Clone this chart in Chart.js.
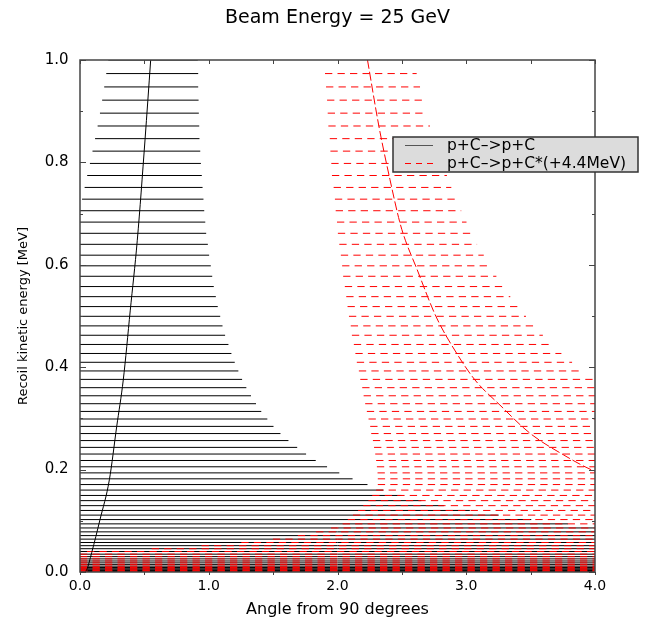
<!DOCTYPE html>
<html>
<head>
<meta charset="utf-8">
<script src="https://cdn.jsdelivr.net/npm/chart.js@4.4.1/dist/chart.umd.min.js"></script>
<style>
  html, body { margin: 0; padding: 0; background: #fff; }
</style>
</head>
<body>
<canvas id="chart" width="646" height="619"></canvas>
<script>
// recoil energy of each band line (MeV), bottom to top
const energyLevels = [
  0.0002, 0.0007, 0.0016, 0.0028, 0.0044, 0.0064, 0.0087, 0.0114, 0.0144, 0.0178,
  0.0215, 0.0256, 0.0300, 0.0348, 0.0400, 0.0455, 0.0514, 0.0576, 0.0642, 0.0711,
  0.0784, 0.0860, 0.0940, 0.1024, 0.1111, 0.1202, 0.1296, 0.1394, 0.1495, 0.1600,
  0.1708, 0.1820, 0.1936, 0.2055, 0.2178, 0.2304, 0.2434, 0.2567, 0.2704, 0.2844,
  0.2988, 0.3136, 0.3287, 0.3442, 0.3600, 0.3762, 0.3927, 0.4096, 0.4268, 0.4444,
  0.4624, 0.4807, 0.4994, 0.5184, 0.5378, 0.5575, 0.5776, 0.5980, 0.6188, 0.6400,
  0.6615, 0.6834, 0.7056, 0.7282, 0.7511, 0.7744, 0.7980, 0.8220, 0.8464, 0.8711,
  0.8962, 0.9216, 0.9474, 0.9735, 1.0000
];

// p+C->p+C : angle range of each line
const elasticLeft = [
  0, 0, 0, 0, 0, 0, 0, 0, 0, 0,
  0, 0, 0, 0, 0, 0, 0, 0, 0, 0,
  0, 0, 0, 0, 0, 0, 0, 0, 0, 0,
  0, 0, 0, 0, 0, 0, 0, 0, 0, 0,
  0, 0, 0, 0, 0, 0, 0, 0, 0, 0,
  0, 0, 0, 0, 0, 0, 0, 0, 0, 0,
  0, 0, 0, 0.016, 0.036, 0.056, 0.077, 0.097, 0.117, 0.137,
  0.155, 0.172, 0.188, 0.204, 0.22
];
const elasticRight = [
  4.0, 4.0, 4.0, 4.0, 4.0, 4.0, 4.0, 4.0, 4.0, 4.0,
  4.0, 4.0, 4.0, 4.0, 4.0, 4.0, 4.0, 4.0, 4.0, 4.0,
  4.0, 4.0, 3.79, 3.505, 3.252, 3.028, 2.826, 2.651, 2.497, 2.357,
  2.233, 2.117, 2.014, 1.919, 1.831, 1.756, 1.687, 1.619, 1.557, 1.503,
  1.455, 1.408, 1.367, 1.328, 1.292, 1.259, 1.230, 1.202, 1.176, 1.153,
  1.127, 1.107, 1.089, 1.070, 1.055, 1.039, 1.027, 1.016, 1.003, 0.993,
  0.980, 0.973, 0.965, 0.959, 0.952, 0.946, 0.939, 0.934, 0.928, 0.926,
  0.923, 0.921, 0.918, 0.918, 0.915
];

// p+C->p+C*(+4.4MeV) : angle range of each line (null = no line)
const excitedLeft = [
  0, 0, 0, 0, 0, 0, 0, 0, 0, 0,
  0, 0, 0, 0, 0.054, 0.557, 0.944, 1.253, 1.498, 1.692,
  1.834, 1.95, 2.04, 2.08, 2.12, 2.16, 2.20, 2.24, 2.27, 2.30,
  2.313, 2.313, 2.311, 2.306, 2.300, 2.293, 2.284, 2.275, 2.262, 2.254,
  2.241, 2.228, 2.215, 2.203, 2.192, 2.177, 2.166, 2.150, 2.139, 2.127,
  2.112, 2.103, 2.089, 2.078, 2.068, 2.057, 2.044, 2.036, 2.026, 2.014,
  2.003, 1.996, 1.986, 1.980, 1.970, 1.957, 1.952, 1.945, 1.940, 1.929,
  1.924, 1.919, 1.911, 1.903, null
];
const excitedRight = [
  4.0, 4.0, 4.0, 4.0, 4.0, 4.0, 4.0, 4.0, 4.0, 4.0,
  4.0, 4.0, 4.0, 4.0, 4.0, 4.0, 4.0, 4.0, 4.0, 4.0,
  4.0, 4.0, 4.0, 4.0, 4.0, 4.0, 4.0, 4.0, 4.0, 4.0,
  4.0, 4.0, 4.0, 4.0, 4.0, 4.0, 4.0, 4.0, 4.0, 4.0,
  4.0, 4.0, 4.0, 4.0, 4.0, 4.0, 3.910, 3.822, 3.739, 3.665,
  3.595, 3.526, 3.464, 3.399, 3.342, 3.286, 3.234, 3.182, 3.136, 3.084,
  3.046, 3.002, 2.961, 2.922, 2.884, 2.850, 2.815, 2.780, 2.748, 2.718,
  2.692, 2.667, 2.641, 2.615, null
];

// kinematic curves
const elasticCurveX = [0.039, 0.052, 0.091, 0.155, 0.228, 0.285, 0.336, 0.390, 0.445, 0.505, 0.549];
const elasticCurveY = [0.0006, 0.004, 0.038, 0.102, 0.180, 0.284, 0.375, 0.510, 0.648, 0.844, 1.0];
const excitedCurveX = [2.233, 2.322, 2.408, 2.485, 2.527, 2.610, 2.765, 2.926, 3.068, 3.262, 3.495, 3.754, 3.987, 4.0];
const excitedCurveY = [1.0, 0.870, 0.766, 0.682, 0.648, 0.596, 0.499, 0.427, 0.375, 0.326, 0.271, 0.229, 0.198, 0.197];

const xTickMarks = [0, 0.5, 1.0, 1.5, 2.0, 2.5, 3.0, 3.5, 4.0];
const yTickMarks = [0, 0.1, 0.2, 0.3, 0.4, 0.5, 0.6, 0.7, 0.8, 0.9, 1.0];

const titleText = 'Beam Energy = 25 GeV';
const legendLabels = ['p+C–>p+C', 'p+C–>p+C*(+4.4MeV)'];

const FONT = 'DejaVu Sans';
const lineBase = { showLine: true, pointRadius: 0, borderWidth: 1, fill: false };

const datasets = [];
energyLevels.forEach((e, i) => {
  datasets.push(Object.assign({}, lineBase, {
    data: [{ x: elasticLeft[i], y: e }, { x: elasticRight[i], y: e }],
    borderColor: '#000', order: 2
  }));
  if (excitedLeft[i] !== null) {
    datasets.push(Object.assign({}, lineBase, {
      data: [{ x: excitedLeft[i], y: e }, { x: excitedRight[i], y: e }],
      borderColor: '#ff0000', borderDash: [7.3, 5.2], order: 1
    }));
  }
});
datasets.push(Object.assign({}, lineBase, {
  data: elasticCurveX.map((x, i) => ({ x: x, y: elasticCurveY[i] })),
  borderColor: '#000', cubicInterpolationMode: 'monotone', order: 0
}));
datasets.push(Object.assign({}, lineBase, {
  data: excitedCurveX.map((x, i) => ({ x: x, y: excitedCurveY[i] })),
  borderColor: '#ff0000', borderDash: [9, 3], cubicInterpolationMode: 'monotone', order: 0
}));

// frame, inward ticks, legend box and title
const decorations = {
  id: 'decorations',
  afterDatasetsDraw(chart) {
    const { ctx, chartArea: a, scales: { x, y } } = chart;
    ctx.save();
    ctx.strokeStyle = '#444';
    ctx.lineWidth = 1;
    ctx.beginPath();
    xTickMarks.forEach(v => {
      const px = Math.round(x.getPixelForValue(v)) + 0.5;
      ctx.moveTo(px, a.top); ctx.lineTo(px, a.top + 4);
      ctx.moveTo(px, a.bottom); ctx.lineTo(px, a.bottom + 3);
    });
    yTickMarks.forEach((v, i) => {
      const py = Math.round(y.getPixelForValue(v)) + 0.5;
      const len = i % 2 === 0 ? 6 : 3;
      ctx.moveTo(a.left, py); ctx.lineTo(a.left + len, py);
      ctx.moveTo(a.right, py); ctx.lineTo(a.right - len, py);
    });
    ctx.stroke();
    ctx.lineWidth = 1.5;
    ctx.strokeRect(a.left, a.top, a.right - a.left, a.bottom - a.top);
    ctx.restore();
  },
  afterDraw(chart) {
    const { ctx, chartArea: a } = chart;
    ctx.save();
    // legend
    const bx = a.right - 202, by = a.top + 77, bw = 245, bh = 35;
    ctx.fillStyle = '#dcdcdc';
    ctx.fillRect(bx, by, bw, bh);
    ctx.strokeStyle = '#333';
    ctx.lineWidth = 1.5;
    ctx.strokeRect(bx, by, bw, bh);
    const rows = [by + 8.5, by + 26.5];
    ctx.lineWidth = 1;
    ctx.strokeStyle = '#555';
    ctx.beginPath(); ctx.moveTo(bx + 12, rows[0]); ctx.lineTo(bx + 40, rows[0]); ctx.stroke();
    ctx.strokeStyle = '#ff0000';
    ctx.setLineDash([6, 5]);
    ctx.beginPath(); ctx.moveTo(bx + 12, rows[1]); ctx.lineTo(bx + 40, rows[1]); ctx.stroke();
    ctx.setLineDash([]);
    ctx.fillStyle = '#000';
    ctx.font = '15.5px "' + FONT + '"';
    ctx.textAlign = 'left';
    ctx.textBaseline = 'middle';
    legendLabels.forEach((t, i) => ctx.fillText(t, bx + 54, rows[i]));
    // title
    ctx.font = '19px "' + FONT + '"';
    ctx.textAlign = 'center';
    ctx.fillText(titleText, (a.left + a.right) / 2, 18);
    ctx.restore();
  }
};

new Chart(document.getElementById('chart'), {
  type: 'scatter',
  data: { datasets: datasets },
  options: {
    responsive: false,
    animation: false,
    devicePixelRatio: 1,
    events: [],
    layout: { padding: { top: 60, right: 51, left: 0, bottom: 0 } },
    plugins: { legend: { display: false }, tooltip: { enabled: false }, title: { display: false } },
    scales: {
      x: {
        type: 'linear', min: 0, max: 4,
        grid: { display: false, drawTicks: false },
        border: { display: false },
        ticks: {
          stepSize: 1, autoSkip: false, maxRotation: 0, padding: 6, color: '#000',
          font: { family: FONT, size: 14 },
          callback: v => v.toFixed(1)
        },
        title: {
          display: true, text: 'Angle from 90 degrees', color: '#000',
          font: { family: FONT, size: 16, lineHeight: 1.1 },
          padding: { top: 0, bottom: 0 }
        },
        afterFit: s => { s.height = 47; }
      },
      y: {
        type: 'linear', min: 0, max: 1,
        grid: { display: false, drawTicks: false },
        border: { display: false },
        ticks: {
          stepSize: 0.2, padding: 11.5, color: '#000',
          font: { family: FONT, size: 15 },
          callback: v => v.toFixed(1)
        },
        title: {
          display: true, text: 'Recoil kinetic energy [MeV]', color: '#000',
          font: { family: FONT, size: 13 },
          padding: { top: 15.7, bottom: 0 }
        },
        afterFit: s => { s.width = 80; }
      }
    }
  },
  plugins: [decorations]
});
</script>
</body>
</html>
